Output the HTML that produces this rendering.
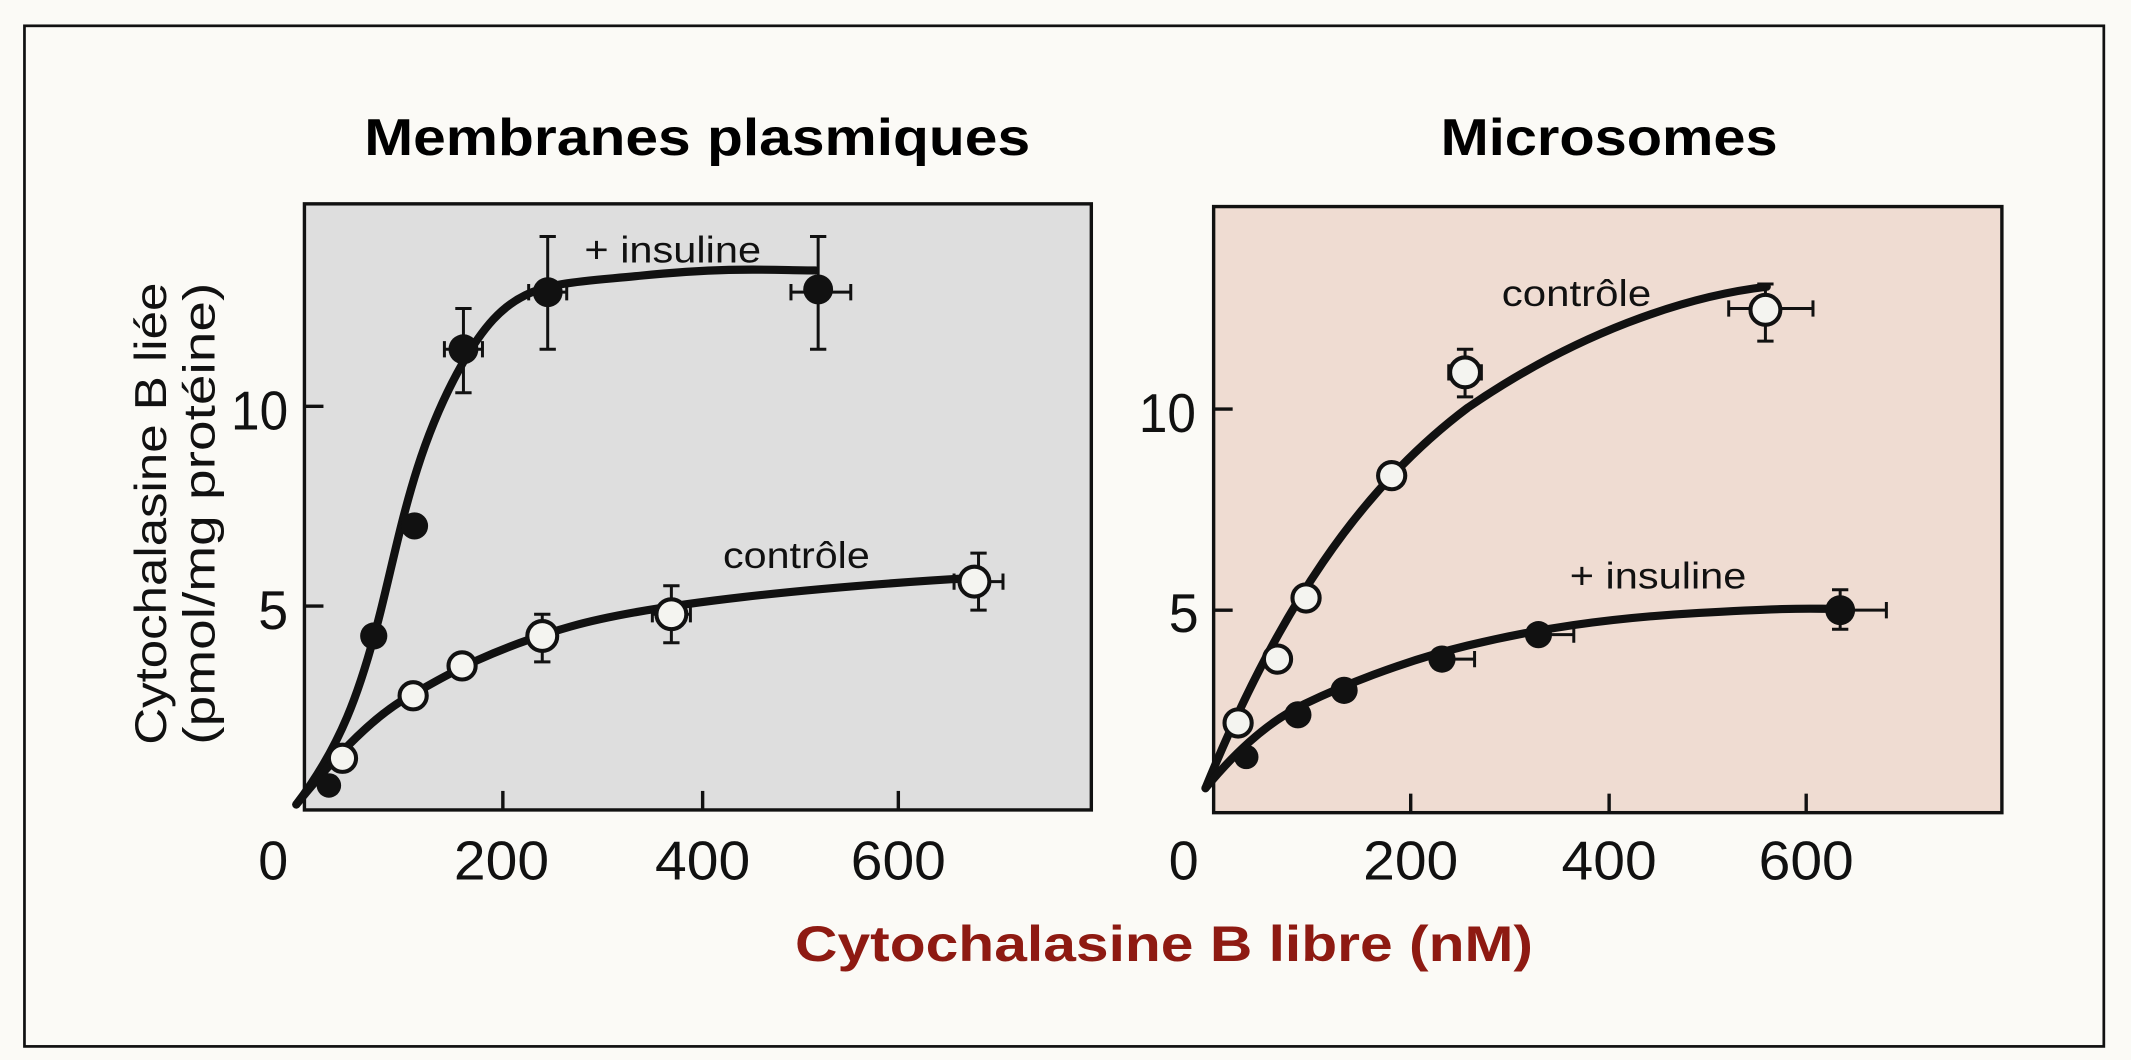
<!DOCTYPE html>
<html><head><meta charset="utf-8"><style>
html,body{margin:0;padding:0;background:#fbfaf6;width:2131px;height:1060px;overflow:hidden}
svg{display:block}
text{font-family:"Liberation Sans",sans-serif}
</style></head><body>
<svg width="2131" height="1060" viewBox="0 0 1568 780" preserveAspectRatio="none">
<rect x="0" y="0" width="1568" height="780" fill="#fbfaf6"/>
<rect x="18" y="19" width="1530" height="751" fill="none" stroke="#111" stroke-width="2"/>
<text x="268" y="114" font-size="38" font-weight="bold" textLength="490" lengthAdjust="spacingAndGlyphs">Membranes  plasmiques</text>
<text x="1060" y="114" font-size="38" font-weight="bold" textLength="248" lengthAdjust="spacingAndGlyphs">Microsomes</text>
<rect x="224" y="150" width="579" height="446" fill="#dedede" stroke="#111" stroke-width="2.5"/>
<rect x="893" y="152" width="580" height="446" fill="#efdcd2" stroke="#111" stroke-width="2.5"/>
<g stroke="#111" stroke-width="2.5">
<line x1="224" y1="299" x2="238" y2="299"/><line x1="224" y1="446" x2="238" y2="446"/>
<line x1="370" y1="596" x2="370" y2="582"/><line x1="517" y1="596" x2="517" y2="582"/><line x1="661" y1="596" x2="661" y2="582"/>
<line x1="893" y1="301" x2="907" y2="301"/><line x1="893" y1="449" x2="907" y2="449"/>
<line x1="1038" y1="598" x2="1038" y2="584"/><line x1="1184" y1="598" x2="1184" y2="584"/><line x1="1329" y1="598" x2="1329" y2="584"/>
</g>
<g font-size="40" fill="#111">
<text x="170" y="316" textLength="42" lengthAdjust="spacingAndGlyphs">10</text><text x="190" y="463" textLength="22" lengthAdjust="spacingAndGlyphs">5</text>
<text x="190" y="647" textLength="22" lengthAdjust="spacingAndGlyphs">0</text><text x="334" y="647" textLength="70" lengthAdjust="spacingAndGlyphs">200</text><text x="482" y="647" textLength="70" lengthAdjust="spacingAndGlyphs">400</text><text x="626" y="647" textLength="70" lengthAdjust="spacingAndGlyphs">600</text>
<text x="838" y="318" textLength="42" lengthAdjust="spacingAndGlyphs">10</text><text x="860" y="465" textLength="22" lengthAdjust="spacingAndGlyphs">5</text>
<text x="860" y="647" textLength="22" lengthAdjust="spacingAndGlyphs">0</text><text x="1003" y="647" textLength="70" lengthAdjust="spacingAndGlyphs">200</text><text x="1149" y="647" textLength="70" lengthAdjust="spacingAndGlyphs">400</text><text x="1294" y="647" textLength="70" lengthAdjust="spacingAndGlyphs">600</text>
</g>
<g font-size="33" fill="#111" text-anchor="middle">
<text transform="translate(122,378) rotate(-90)" textLength="340" lengthAdjust="spacingAndGlyphs">Cytochalasine B liée</text>
<text transform="translate(158,378) rotate(-90)" textLength="340" lengthAdjust="spacingAndGlyphs">(pmol/mg protéine)</text>
</g>
<text x="585" y="707" font-size="37" font-weight="bold" fill="#8e1a12" textLength="543" lengthAdjust="spacingAndGlyphs">Cytochalasine  B  libre  (nM)</text>
<g font-size="27" fill="#111">
<text x="430" y="193" textLength="130" lengthAdjust="spacingAndGlyphs">+ insuline</text>
<text x="532" y="418" textLength="108" lengthAdjust="spacingAndGlyphs">contrôle</text>
<text x="1105" y="225" textLength="110" lengthAdjust="spacingAndGlyphs">contrôle</text>
<text x="1155" y="433" textLength="130" lengthAdjust="spacingAndGlyphs">+ insuline</text>
</g>
<g fill="none" stroke="#111" stroke-width="6" stroke-linejoin="round" stroke-linecap="round">
<path d="M218,592 C250,550 265,510 280,450 S305,330 340,268 S400,210 470,203 S570,199 600,199"/>
<path d="M218,592 C240,565 270,530 300,513 S360,478 420,461 S600,432 720,425"/>
<path d="M887,580 C940,450 1000,360 1080,300 C1160,245 1240,218 1300,211"/>
<path d="M887,580 C910,552 935,530 960,518 S1030,487 1080,475 S1180,455 1250,451 S1330,448 1350,448"/>
</g>
<g stroke="#111" stroke-width="2.2" fill="none">
<path d="M341,227V289M335,227h12M335,289h12M327,257h28M327,251v12M355,251v12"/>
<path d="M403,174V257M397,174h12M397,257h12M389,215h28M389,209v12M417,209v12"/>
<path d="M602,174V257M596,174h12M596,257h12M582,215h44M582,209v12M626,209v12"/>
<path d="M399,452V487M393,452h12M393,487h12M387,470h24"/>
<path d="M494,431V473M488,431h12M488,473h12M480,452h28M480,446v12M508,446v12"/>
<path d="M720,407V449M714,407h12M714,449h12M702,428h36M702,422v12M738,422v12"/>
<path d="M1078,257V292M1072,257h12M1072,292h12M1066,274h24M1066,268v12M1090,268v12"/>
<path d="M1299,209V251M1293,209h12M1293,251h12M1272,227h62M1272,221v12M1334,221v12"/>
<path d="M1061,485h24M1085,479v12M1110,467h48M1158,461v12"/>
<path d="M1354,434V463M1348,434h12M1348,463h12M1317,449h71M1388,443v12"/>
</g>
<g fill="#111">
<circle cx="242" cy="578" r="9"/><circle cx="275" cy="468" r="10"/><circle cx="305" cy="387" r="10"/>
<circle cx="341" cy="257" r="11"/><circle cx="403" cy="215" r="11"/><circle cx="602" cy="213" r="11"/>
<circle cx="917" cy="557" r="9"/><circle cx="955" cy="526" r="10"/><circle cx="989" cy="508" r="10"/>
<circle cx="1061" cy="485" r="10"/><circle cx="1132" cy="467" r="10"/><circle cx="1354" cy="449" r="11"/>
</g>
<g fill="#f4f4f0" stroke="#111" stroke-width="3">
<circle cx="252" cy="558" r="10"/><circle cx="304" cy="512" r="10"/><circle cx="340" cy="490" r="10"/>
<circle cx="399" cy="468" r="11"/><circle cx="494" cy="452" r="11"/><circle cx="717" cy="428" r="11"/>
<circle cx="911" cy="532" r="10"/><circle cx="940" cy="485" r="10"/><circle cx="961" cy="440" r="10"/>
<circle cx="1024" cy="350" r="10"/><circle cx="1078" cy="274" r="11"/><circle cx="1299" cy="228" r="11"/>
</g>
</svg>
</body></html>
